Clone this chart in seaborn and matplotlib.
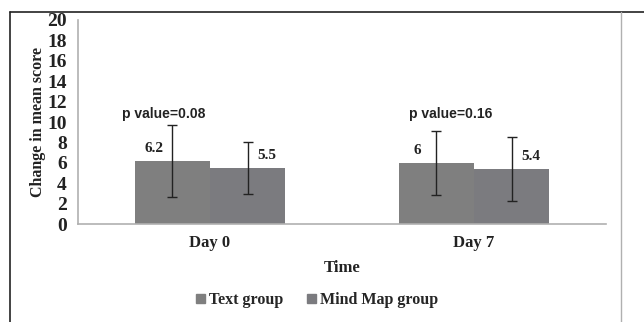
import numpy as np
import pandas as pd
import matplotlib.pyplot as plt
import seaborn as sns

# dados
tempos = ["Day 0", "Day 7"]
grupos = ["Text group", "Mind Map group"]
media_text = [6.2, 6.0]
media_mind = [5.5, 5.4]
erro_text = [3.5, 3.1]
erro_mind = [2.55, 3.1]
rotulos_text = ["6.2", "6"]
rotulos_mind = ["5.5", "5.4"]
p_valores = ["p value=0.08", "p value=0.16"]
yticks = list(range(0, 21, 2))

df = pd.DataFrame({
    "Time": tempos * 2,
    "score": media_text + media_mind,
    "group": [grupos[0]] * 2 + [grupos[1]] * 2,
})

sns.set_style("white")
serif = ["Liberation Serif", "DejaVu Serif"]
sans = ["Liberation Sans", "DejaVu Sans"]
plt.rcParams["font.family"] = serif
plt.rcParams["font.weight"] = "bold"

fig = plt.figure(figsize=(6.44, 3.22), dpi=100)
ax = fig.add_axes([0.121, 0.304, 0.82, 0.634])

cores = {"Text group": "#7f7f7f", "Mind Map group": "#7b7b7f"}
sns.barplot(data=df, x="Time", y="score", hue="group", order=tempos,
            hue_order=grupos, palette=cores, errorbar=None, width=0.57,
            saturation=1, linewidth=0, ax=ax, legend=False)

# barras de erro e rotulos sobre cada barra
n = len(tempos)
patches = ax.patches[:2 * n]
erros = erro_text + erro_mind
rotulos = rotulos_text + rotulos_mind
for i, p in enumerate(patches):
    cx = p.get_x() + p.get_width() / 2
    h = p.get_height()
    ax.errorbar(cx, h, yerr=erros[i], color="#222222", lw=1.0,
                capsize=3.5, capthick=1.0)
    if i < n:
        lx = p.get_x() + p.get_width() * 0.25
    else:
        lx = p.get_x() + p.get_width() * 0.75
    ax.annotate(rotulos[i], (lx, h), xytext=(0, 4), textcoords="offset points",
                ha="center", va="bottom", fontsize=11, fontweight="bold",
                family=serif, color="#222222")

# p valores
p_off = [-0.174, -0.09]
for i, t in enumerate(p_valores):
    ax.text(i + p_off[i], 10.8, t, ha="center", va="center", fontsize=10,
            fontweight="bold", family=sans, color="#222222")

ax.set_ylim(0, 20)
ax.set_xlim(-0.5, n - 0.5)
ax.set_yticks(yticks)
ax.set_yticklabels([str(v) for v in yticks], fontsize=14, fontweight="bold")
ax.set_xticks(range(n))
ax.set_xticklabels(tempos, fontsize=12, fontweight="bold")
ax.set_xticks(np.arange(-0.5, n, 1.0), minor=True)
ax.tick_params(axis="x", which="major", length=0, pad=8, colors="#222222")
ax.tick_params(axis="x", which="minor", length=4, width=1, color="#b0b0b0",
               direction="out")
ax.tick_params(axis="y", length=5, width=1, color="#b0b0b0", direction="out",
               pad=3, labelcolor="#222222")
ax.set_ylabel("Change in mean score", fontsize=11.5, fontweight="bold",
              labelpad=1, color="#222222")
ax.set_xlabel("Time", fontsize=12, fontweight="bold", labelpad=6,
              color="#222222")
for s in ["top", "right"]:
    ax.spines[s].set_visible(False)
for s in ["left", "bottom"]:
    ax.spines[s].set_color("#b0b0b0")
    ax.spines[s].set_linewidth(1.2)

# legenda
handles = [plt.Rectangle((0, 0), 1, 1, color=cores[g]) for g in grupos]
fig.legend(handles, grupos, loc="center", bbox_to_anchor=(0.492, 0.068),
           ncol=2, frameon=False, handlelength=0.55,
           handleheight=0.55, handletextpad=0.25, columnspacing=1.5,
           prop={"family": serif, "weight": "bold", "size": 11.5})

# moldura da figura
fig.add_artist(plt.Line2D([10 / 644, 10 / 644], [0, 1 - 12 / 322],
                          color="#222222", lw=1.2, transform=fig.transFigure))
fig.add_artist(plt.Line2D([10 / 644, 1], [1 - 12 / 322, 1 - 12 / 322],
                          color="#222222", lw=1.2, transform=fig.transFigure))
fig.add_artist(plt.Line2D([621 / 644, 621 / 644], [0, 1 - 12 / 322],
                          color="#b0b0b0", lw=1.0, transform=fig.transFigure))

fig.savefig("out.png", dpi=100)
